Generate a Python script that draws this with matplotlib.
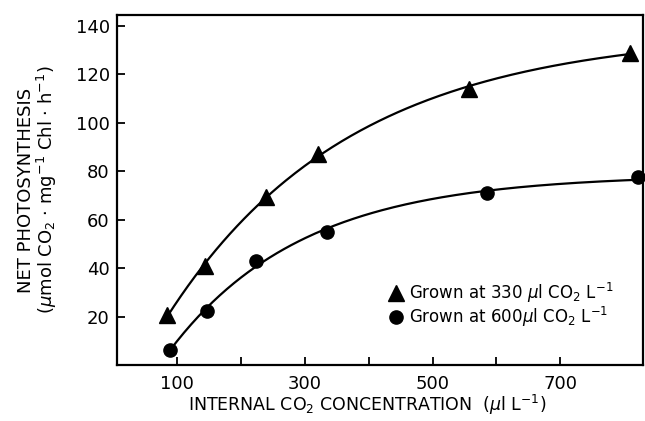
import numpy as np
import matplotlib
matplotlib.use("Agg")
import matplotlib.pyplot as plt

# values
tri_x = [84, 144, 239, 320, 557, 810]
tri_y = [20.5, 41, 69.5, 87, 114, 129]
circ_x = [88, 146, 223, 334, 586, 822]
circ_y = [6, 22.5, 43, 55, 71, 77.5]

x_ticks = [100, 200, 300, 400, 500, 600, 700]
x_labels = ["100", "", "300", "", "500", "", "700"]
y_ticks = [20, 40, 60, 80, 100, 120, 140]

label_330 = r"Grown at 330 $\mu$l CO$_2$ L$^{-1}$"
label_600 = r"Grown at 600$\mu$l CO$_2$ L$^{-1}$"


def fit_saturation(x, y):
    """Least squares fit of y = a - b*exp(-k*x), k by grid search."""
    x = np.asarray(x, float)
    y = np.asarray(y, float)
    best = None
    for k in np.linspace(0.0005, 0.02, 400):
        M = np.column_stack([np.ones_like(x), -np.exp(-k * x)])
        coef, res, _, _ = np.linalg.lstsq(M, y, rcond=None)
        err = np.sum((M @ coef - y) ** 2)
        if best is None or err < best[0]:
            best = (err, coef[0], coef[1], k)
    _, a, b, k = best
    return lambda t: a - b * np.exp(-k * t)


plt.rcParams["font.family"] = ["DejaVu Sans"]
plt.rcParams["mathtext.fontset"] = "dejavusans"

fig = plt.figure(figsize=(6.45, 4.21), dpi=100)
ax = fig.add_axes([0.181, 0.133, 0.816, 0.831])

f_tri = fit_saturation(tri_x, tri_y)
f_circ = fit_saturation(circ_x, circ_y)
xs_tri = np.linspace(tri_x[0], tri_x[-1], 200)
xs_circ = np.linspace(circ_x[0], 832, 200)
ax.plot(xs_tri, f_tri(xs_tri), color="black", lw=1.6)
ax.plot(xs_circ, f_circ(xs_circ), color="black", lw=1.6)

ax.plot(tri_x, tri_y, ls="none", marker="^", ms=11, color="black", label=label_330)
ax.plot(circ_x, circ_y, ls="none", marker="o", ms=9.5, color="black", label=label_600,
        clip_on=False)

ax.set_xlim(5, 830)
ax.set_ylim(0, 144.5)
ax.set_xticks(x_ticks)
ax.set_xticklabels(x_labels)
ax.set_yticks(y_ticks)
ax.tick_params(direction="in", length=6, width=1.3, labelsize=13)
ax.tick_params(axis="x", pad=7)
ax.tick_params(axis="y", pad=5)
for s in ax.spines.values():
    s.set_linewidth(1.6)

ax.set_xlabel(r"INTERNAL CO$_2$ CONCENTRATION  ($\mu$l L$^{-1}$)", fontsize=12.5)
ax.xaxis.set_label_coords(0.475, -0.08)
ax.set_ylabel("NET PHOTOSYNTHESIS\n" + r"($\mu$mol CO$_2$ · mg$^{-1}$ Chl · h$^{-1}$)",
              fontsize=13, linespacing=1.0)
ax.yaxis.set_label_coords(-0.11, 0.5)

ax.legend(loc="upper left", bbox_to_anchor=(0.518, 0.24), frameon=False,
          fontsize=12, handlelength=0.8, handletextpad=0.35, borderpad=0,
          labelspacing=0.0, borderaxespad=0)

fig.savefig("out.png", dpi=100)
